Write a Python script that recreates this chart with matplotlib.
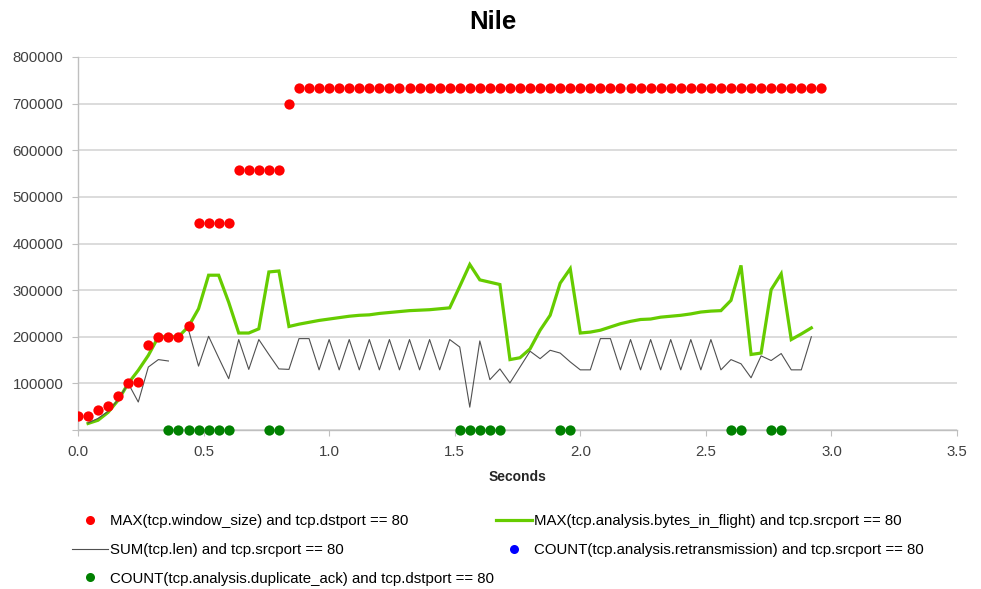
import numpy as np
import matplotlib
matplotlib.use("Agg")
import matplotlib.pyplot as plt
from matplotlib.lines import Line2D

plt.rcParams['font.family'] = ['Liberation Sans', 'DejaVu Sans']

""" data (IO graph, 0.04 s intervals) """
seconds = [0.00, 0.04, 0.08, 0.12, 0.16, 0.20, 0.24, 0.28, 0.32, 0.36,
           0.40, 0.44, 0.48, 0.52, 0.56, 0.60, 0.64, 0.68, 0.72, 0.76,
           0.80, 0.84, 0.88, 0.92, 0.96, 1.00, 1.04, 1.08, 1.12, 1.16,
           1.20, 1.24, 1.28, 1.32, 1.36, 1.40, 1.44, 1.48, 1.52, 1.56,
           1.60, 1.64, 1.68, 1.72, 1.76, 1.80, 1.84, 1.88, 1.92, 1.96,
           2.00, 2.04, 2.08, 2.12, 2.16, 2.20, 2.24, 2.28, 2.32, 2.36,
           2.40, 2.44, 2.48, 2.52, 2.56, 2.60, 2.64, 2.68, 2.72, 2.76,
           2.80, 2.84, 2.88, 2.92, 2.96]

# MAX(tcp.window_size) and tcp.dstport == 80
window_size = [29000, 29000, 42000, 51000, 73000, 100000, 103000, 183000, 200000, 200000,
               200000, 223000, 443000, 443000, 443000, 443000, 557000, 557000, 557000, 557000,
               557000, 699000] + [733000] * 53

# MAX(tcp.analysis.bytes_in_flight) and tcp.srcport == 80
bytes_in_flight = [None, 14000, 21000, 38000, 64000, 100000, 128000, 160000, 200000, 200000,
                   200000, 222000, 260000, 332000, 332000, 274000, 208000, 208000, 217000, 339000,
                   341000, 222000, 227000, 231000, 235000, 238000, 241000, 244000, 246000, 247000,
                   250000, 252000, 254000, 256000, 257000, 258000, 260000, 262000, 308000, 355000,
                   322000, 317000, 312000, 151000, 155000, 174000, 214000, 246000, 315000, 346000,
                   208000, 210000, 214000, 221000, 228000, 233000, 237000, 238000, 242000, 244000,
                   246000, 249000, 253000, 255000, 256000, 278000, 353000, 162000, 165000, 301000,
                   335000, 194000, 206000, 219000, None]

# SUM(tcp.len) and tcp.srcport == 80
tcp_len = [None, 15000, 25000, 40000, 65000, 100000, 60000, 135000, 151000, 148000,
           None, 215000, 137000, 201000, 155000, 110000, 194000, 130000, 194000, 162000,
           131000, 130000, 196000, 196000, 129000, 194000, 129000, 194000, 129000, 194000,
           129000, 194000, 129000, 194000, 129000, 194000, 129000, 194000, 178000, 49000,
           191000, 108000, 131000, 101000, 135000, 169000, 153000, 171000, 165000, 146000,
           129000, 129000, 196000, 196000, 129000, 194000, 129000, 194000, 129000, 194000,
           129000, 194000, 129000, 194000, 129000, 151000, 142000, 112000, 159000, 149000,
           164000, 129000, 129000, 200000, None]

# COUNT(tcp.analysis.duplicate_ack) and tcp.dstport == 80
dup_ack_seconds = [0.36, 0.40, 0.44, 0.48, 0.52, 0.56, 0.60, 0.76, 0.80,
                   1.52, 1.56, 1.60, 1.64, 1.68, 1.92, 1.96,
                   2.60, 2.64, 2.76, 2.80]
dup_ack_count = [1] * len(dup_ack_seconds)

# COUNT(tcp.analysis.retransmission) and tcp.srcport == 80 -> no samples
retrans_seconds = []
retrans_count = []

labels = ["MAX(tcp.window_size) and tcp.dstport == 80",
          "MAX(tcp.analysis.bytes_in_flight) and tcp.srcport == 80",
          "SUM(tcp.len) and tcp.srcport == 80",
          "COUNT(tcp.analysis.retransmission) and tcp.srcport == 80",
          "COUNT(tcp.analysis.duplicate_ack) and tcp.dstport == 80"]

""" display """
fig = plt.figure(figsize=(9.81, 5.89), dpi=100)
ax = fig.add_axes([78 / 981, 1 - 430 / 589, (957 - 78) / 981, (430 - 57) / 589])

to_arr = lambda v: np.array([np.nan if a is None else a for a in v], dtype=float)

ax.plot(seconds, to_arr(bytes_in_flight), color="#66CC00", lw=2.3, zorder=2, solid_joinstyle="miter")
ax.plot(seconds, to_arr(tcp_len), color="#505050", lw=0.8, zorder=3)
ax.plot(seconds, window_size, ls="none", marker="o", ms=7.4, color="#FF0000", mec="none", zorder=4)
ax.plot(retrans_seconds, retrans_count, ls="none", marker="o", ms=7.4, color="#0000FF", mec="none", zorder=4)
ax.plot(dup_ack_seconds, dup_ack_count, ls="none", marker="o", ms=7.4, color="#008000", mec="none",
        zorder=5, clip_on=False)

## axes settings
ax.set_xlim(0, 3.5)
ax.set_ylim(0, 800000)
ax.set_xticks(np.arange(0, 3.51, 0.5))
ax.set_xticklabels(["%.1f" % v for v in np.arange(0, 3.51, 0.5)])
ax.set_yticks(np.arange(0, 800001, 100000))
ax.set_yticklabels([""] + ["%d" % v for v in np.arange(100000, 800001, 100000)])
ax.grid(axis="y", color="#D9D9D9", lw=1.3)
ax.set_axisbelow(True)
for s in ["top", "right"]:
    ax.spines[s].set_visible(False)
for s in ["left", "bottom"]:
    ax.spines[s].set_color("#BFBFBF")
    ax.spines[s].set_linewidth(1.0)
ax.tick_params(axis="both", colors="#BFBFBF", length=4, labelsize=10.8, labelcolor="#404040")
ax.tick_params(axis="y", pad=6.5)
ax.tick_params(axis="x", pad=7)

ax.set_xlabel("Seconds", fontsize=10, fontweight="bold", color="#262626", labelpad=7.5)
fig.text(0.5025, 0.962, "Nile", ha="center", va="center", fontsize=18.5, fontweight="bold", color="#000000")

## legend (row-major order like the original)
h_red = Line2D([], [], ls="none", marker="o", ms=6.5, color="#FF0000", mec="none")
h_green = Line2D([], [], color="#66CC00", lw=2.3)
h_gray = Line2D([], [], color="#505050", lw=0.8)
h_blue = Line2D([], [], ls="none", marker="o", ms=6.5, color="#0000FF", mec="none")
h_dup = Line2D([], [], ls="none", marker="o", ms=6.5, color="#008000", mec="none")
fig.legend([h_red, h_gray, h_dup, h_green, h_blue],
           [labels[0], labels[2], labels[4], labels[1], labels[3]],
           loc="upper left", bbox_to_anchor=(72 / 981, 1 - 514 / 589), ncol=2, frameon=False,
           fontsize=10.8, handlelength=2.4, handletextpad=0.15, labelspacing=0.99,
           columnspacing=0.1, borderpad=0, borderaxespad=0)

fig.savefig("out.png", dpi=100)
